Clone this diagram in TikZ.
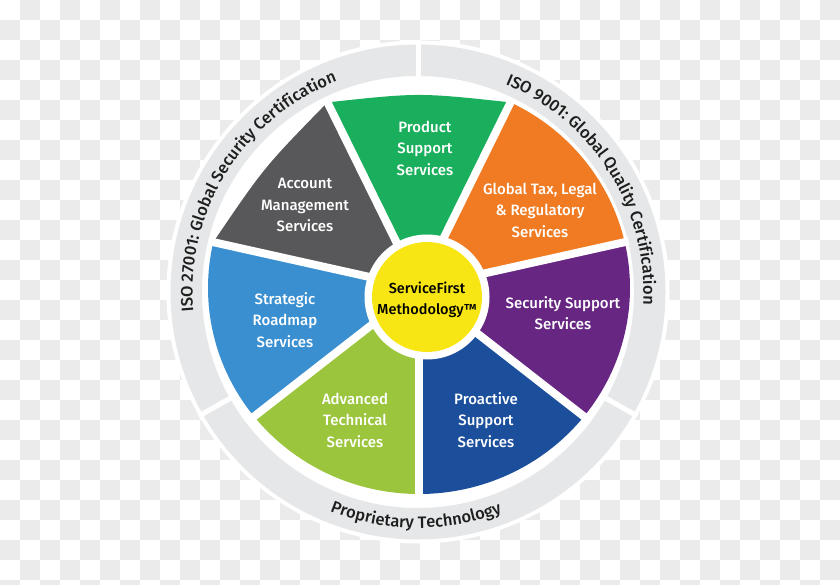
\documentclass[tikz,border=0pt]{standalone}
\usepackage{fontspec}
\setmainfont{Fira Sans}[BoldFont={Fira Sans Medium}]
\usetikzlibrary{decorations.text}
\definecolor{checker}{RGB}{235,235,235}
\definecolor{ringgray}{RGB}{230,231,232}
\definecolor{ringtext}{RGB}{30,30,30}
\definecolor{cgreen}{RGB}{26,175,93}
\definecolor{corange}{RGB}{240,123,34}
\definecolor{cpurple}{RGB}{102,38,130}
\definecolor{cdblue}{RGB}{27,79,156}
\definecolor{clgreen}{RGB}{155,197,61}
\definecolor{clblue}{RGB}{58,143,208}
\definecolor{cgray}{RGB}{88,88,90}
\definecolor{cyellow}{RGB}{247,230,20}
\newcommand{\ringfnt}{\fontsize{16.5}{18}\selectfont\bfseries\color{ringtext}}
\tikzset{
  seglabel/.style={align=center, text=white, font=\fontsize{15}{21.5}\selectfont\bfseries, inner sep=0pt},
  gapline/.style={white, line width=8pt},
  ringgap/.style={white, line width=5pt},
  ringtextstyle/.style={decorate, decoration={text along path, text align=center, text format delimiters={|}{|}}}
}
\begin{document}
\begin{tikzpicture}[x=1pt,y=1pt]
\useasboundingbox (0,0) rectangle (840,-585);
% checkerboard background
\fill[white] (0,0) rectangle (840,-585);
\foreach \j in {0,2,...,28}{
  \foreach \i in {1,3,...,41}{\fill[checker] (\i*20,-\j*20) rectangle ++(20,-20);}
  \foreach \i in {0,2,...,40}{\fill[checker] (\i*20,-\j*20-20) rectangle ++(20,-20);}
}
% outer ring
\coordinate (RC) at (418,-292);
\fill[white] (RC) circle[radius=251.5];
\fill[ringgray, even odd rule] (RC) circle[radius=247.5] (RC) circle[radius=216];
\draw[ringgap] ([shift={(418,-292)}]90:212) -- ([shift={(418,-292)}]90:252);
\draw[ringgap] ([shift={(418,-292)}]-29.5:212) -- ([shift={(418,-292)}]-29.5:252);
\draw[ringgap] ([shift={(418,-292)}]-150.5:212) -- ([shift={(418,-292)}]-150.5:252);
% ring texts
\path[ringtextstyle, decoration={text={|\ringfnt|ISO 27001: Global Security Certification}}]
  ([shift={(418,-292)}]205:225.5) arc[start angle=205, end angle=91, radius=225.5];
\path[ringtextstyle, decoration={text={|\ringfnt|ISO 9001: Global Quality Certification}}]
  ([shift={(418,-292)}]89:225.5) arc[start angle=89, end angle=-25, radius=225.5];
\path[ringtextstyle, decoration={text={|\ringfnt|Proprietary Technology}}]
  ([shift={(418,-292)}]-145:236) arc[start angle=-145, end angle=-36, radius=236];
% wheel
\coordinate (W) at (419,-288);
\coordinate (V0) at (510.55,-102.40);
\coordinate (V1) at (624.71,-242.16);
\coordinate (V2) at (583.97,-416.44);
\coordinate (V3) at (419,-494);
\coordinate (V4) at (254.03,-416.44);
\coordinate (V5) at (213.29,-242.16);
\coordinate (V6) at (327.45,-102.40);
\fill[cgreen] (W) -- (V6) .. controls (419,-92.5) .. (V0) -- cycle;
\fill[corange] (W) -- (V0) arc[start angle=64.286, end angle=12.857, x radius=211, y radius=206] -- cycle;
\fill[cpurple] (W) -- (V1) arc[start angle=12.857, end angle=-38.571, x radius=211, y radius=206] -- cycle;
\fill[cdblue] (W) -- (V2) arc[start angle=-38.571, end angle=-90, x radius=211, y radius=206] -- cycle;
\fill[clgreen] (W) -- (V3) arc[start angle=-90, end angle=-141.429, x radius=211, y radius=206] -- cycle;
\fill[clblue] (W) -- (V4) arc[start angle=-141.429, end angle=-192.857, x radius=211, y radius=206] -- cycle;
\fill[cgray] (W) -- (V5) .. controls (264.1,-167.3) .. (V6) -- cycle;
% white gaps between segments
\foreach \a in {64.286,12.857,-38.571,-90,-141.429,-192.857,115.714}{
  \draw[gapline] (W) -- ([shift={(419,-288)}]\a:215 and 210);
}
% centre
\coordinate (YC) at (427,-297);
\fill[white] (YC) circle[radius=62.5];
\fill[cyellow] (YC) circle[radius=55];
% labels
\node[seglabel] (lprod) at (425,-148) {Product\\Support\\Services};
\node[seglabel] (ltax) at (540,-210) {Global Tax, Legal\\{\&} Regulatory\\Services};
\node[seglabel] (lsec) at (563,-313) {Security Support\\Services};
\node[seglabel] (lpro) at (486,-420) {Proactive\\Support\\Services};
\node[seglabel] (ladv) at (355,-420) {Advanced\\Technical\\Services};
\node[seglabel] (lstr) at (285,-320) {Strategic\\Roadmap\\Services};
\node[seglabel] (lacc) at (305,-205) {Account\\Management\\Services};
\node[seglabel, text=black, font=\fontsize{14.5}{21}\selectfont\bfseries] (lsf) at (427,-300) {ServiceFirst\\Methodology™};
\end{tikzpicture}
\end{document}
